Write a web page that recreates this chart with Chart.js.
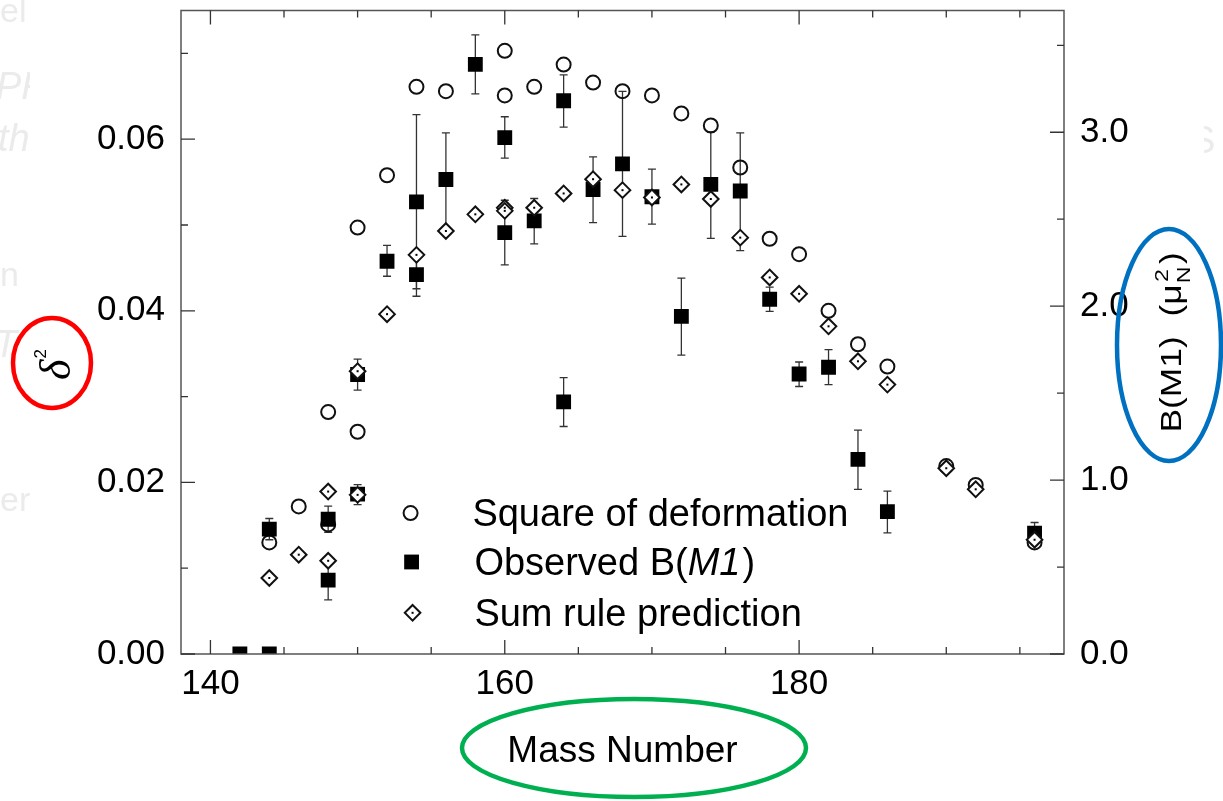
<!DOCTYPE html>
<html>
<head>
<meta charset="utf-8">
<script src="https://cdn.jsdelivr.net/npm/chart.js@4.4.1/dist/chart.umd.min.js"></script>
<style>
  html, body { margin: 0; padding: 0; background: #fff; }
</style>
</head>
<body>
<canvas id="m1Chart" width="1223" height="801"></canvas>
<script>
const FONT = "'Liberation Sans', Arial, Helvetica, sans-serif";

// Square of deformation, delta^2 (left axis)
const defMass   = [144, 146, 148, 148, 150, 150, 152, 154, 156, 160, 160, 162, 164, 166, 168, 170, 172, 174, 176, 178, 180, 182, 184, 186, 190, 192, 196];
const defDelta2 = [0.0130, 0.0172, 0.0282, 0.0151, 0.0497, 0.0259, 0.0558, 0.0661, 0.0656, 0.0703, 0.0651, 0.0661, 0.0687, 0.0666, 0.0656, 0.0651, 0.0630, 0.0616, 0.0567, 0.0484, 0.0466, 0.0400, 0.0361, 0.0335, 0.0219, 0.0197, 0.0130];

// Observed B(M1) in muN^2 (right axis), with lower / upper error bounds
const obsMass = [142, 144, 144, 148, 148, 150, 150, 152, 154, 154, 156, 158, 160, 160, 162, 164, 164, 166, 168, 170, 172, 174, 176, 178, 180, 182, 184, 186, 196];
const obsB    = [0, 0, 0.718, 0.775, 0.425, 1.607, 0.919, 2.258, 2.600, 2.181, 2.728, 3.390, 2.969, 2.423, 2.490, 3.181, 1.450, 2.671, 2.818, 2.629, 1.941, 2.700, 2.662, 2.040, 1.610, 1.649, 1.119, 0.819, 0.695];
const obsLow  = [null, null, 0.657, 0.700, 0.311, 1.517, 0.859, 2.172, 2.100, 2.057, 2.428, 3.221, 2.851, 2.237, 2.358, 3.029, 1.308, 2.480, 2.401, 2.472, 1.719, 2.390, 2.319, 1.970, 1.538, 1.549, 0.947, 0.697, 0.634];
const obsHigh = [null, null, 0.779, 0.850, 0.539, 1.696, 0.974, 2.350, 3.101, 2.305, 2.996, 3.560, 3.089, 2.609, 2.619, 3.330, 1.589, 2.858, 3.235, 2.788, 2.161, 3.002, 2.996, 2.109, 1.679, 1.750, 1.287, 0.936, 0.756];

// Sum rule prediction in muN^2 (right axis)
const sumMass = [144, 146, 148, 148, 150, 150, 152, 154, 156, 158, 160, 160, 162, 164, 166, 168, 170, 172, 174, 176, 178, 180, 182, 184, 186, 190, 192, 196];
const sumB    = [0.437, 0.571, 0.934, 0.536, 1.626, 0.915, 1.954, 2.295, 2.432, 2.528, 2.566, 2.548, 2.566, 2.648, 2.730, 2.667, 2.625, 2.700, 2.616, 2.394, 2.165, 2.071, 1.884, 1.683, 1.549, 1.068, 0.947, 0.657];

// labelled ticks and minor tick steps
const xTickValues = [140, 160, 180];
const leftTickValues = [0, 0.02, 0.04, 0.06];
const rightTickValues = [0, 1, 2, 3];
const xMinorStep = 5, leftMinorStep = 0.01, rightMinorStep = 0.5;

const legendLabels = ['Square of deformation', 'Observed B(', 'Sum rule prediction'];

function toPoints(xs, ys) {
    return xs.map((x, i) => ({ x: x, y: ys[i] }));
}

function drawMarker(ctx, style, x, y) {
    ctx.save();
    ctx.lineWidth = 2;
    ctx.strokeStyle = '#111';
    ctx.beginPath();
    if (style === 'circle') {
        ctx.arc(x, y, 7, 0, Math.PI * 2);
        ctx.stroke();
    } else if (style === 'rect') {
        ctx.fillStyle = '#000';
        ctx.fillRect(x - 7.4, y - 7.4, 14.8, 14.8);
    } else {
        const r = 7.8;
        ctx.moveTo(x, y - r); ctx.lineTo(x + r, y); ctx.lineTo(x, y + r); ctx.lineTo(x - r, y); ctx.closePath();
        ctx.fillStyle = '#fff';
        ctx.fill();
        ctx.stroke();
        ctx.fillStyle = '#000';
        ctx.fillRect(x - 1, y - 1, 2, 2);
    }
    ctx.restore();
}

// light leftover text fragments around the figure
const ghostPlugin = {
    id: 'ghostText',
    beforeDraw(chart) {
        const ctx = chart.ctx;
        ctx.save();
        ctx.fillStyle = '#ebebeb';
        ctx.beginPath();
        ctx.rect(0, 0, 30, 801);
        ctx.clip();
        ctx.font = `34px ${FONT}`;
        ctx.fillText('el', 0, 22);
        ctx.fillText('n h', 0, 286);
        ctx.fillText('er', 0, 511);
        ctx.font = `italic 38px ${FONT}`;
        ctx.fillText('PR', -4, 99);
        ctx.fillText('th', -2, 151);
        ctx.fillText('T', -6, 357);
        ctx.restore();
        ctx.save();
        ctx.fillStyle = '#ebebeb';
        ctx.beginPath();
        ctx.rect(1204, 110, 19, 60);
        ctx.clip();
        ctx.font = `38px ${FONT}`;
        ctx.fillText('S', 1190, 153);
        ctx.restore();
    }
};

const errorBarPlugin = {
    id: 'errorBars',
    beforeDatasetsDraw(chart) {
        const ctx = chart.ctx;
        const a = chart.chartArea;
        const meta = chart.getDatasetMeta(1);
        const yS = chart.scales.yR;
        ctx.save();
        ctx.beginPath();
        ctx.rect(a.left, a.top, a.right - a.left, a.bottom - a.top);
        ctx.clip();
        ctx.strokeStyle = '#333';
        ctx.lineWidth = 1.3;
        meta.data.forEach((pt, i) => {
            if (obsLow[i] == null) return;
            const yLo = yS.getPixelForValue(obsLow[i]);
            const yHi = yS.getPixelForValue(obsHigh[i]);
            ctx.beginPath();
            ctx.moveTo(pt.x, yLo); ctx.lineTo(pt.x, yHi);
            ctx.moveTo(pt.x - 4, yLo); ctx.lineTo(pt.x + 4, yLo);
            ctx.moveTo(pt.x - 4, yHi); ctx.lineTo(pt.x + 4, yHi);
            ctx.stroke();
        });
        ctx.restore();
    }
};

function isMajor(v, list) {
    return list.some(t => Math.abs(t - v) < 1e-9);
}

const framePlugin = {
    id: 'frame',
    afterDatasetsDraw(chart) {
        const ctx = chart.ctx;
        const a = chart.chartArea;
        const { x, y, yR } = chart.scales;

        // diamond centre dots
        ctx.save();
        ctx.fillStyle = '#000';
        chart.getDatasetMeta(2).data.forEach(pt => ctx.fillRect(pt.x - 1, pt.y - 1, 2, 2));
        ctx.restore();

        ctx.save();
        ctx.strokeStyle = '#555';
        ctx.lineWidth = 1.5;
        ctx.strokeRect(a.left, a.top, a.right - a.left, a.bottom - a.top);

        ctx.strokeStyle = '#333';
        ctx.lineWidth = 1.3;
        ctx.beginPath();
        for (let k = Math.ceil(x.min / xMinorStep); k * xMinorStep <= x.max; k++) {
            const v = k * xMinorStep;
            const px = x.getPixelForValue(v);
            const len = isMajor(v, xTickValues) ? 14 : 7;
            ctx.moveTo(px, a.bottom); ctx.lineTo(px, a.bottom - len);
            ctx.moveTo(px, a.top); ctx.lineTo(px, a.top + len);
        }
        for (let k = 0; k * leftMinorStep <= y.max + 1e-9; k++) {
            const v = Math.round(k * leftMinorStep * 1000) / 1000;
            const py = y.getPixelForValue(v);
            const len = isMajor(v, leftTickValues) ? 14 : 7;
            ctx.moveTo(a.left, py); ctx.lineTo(a.left + len, py);
        }
        for (let k = 0; k * rightMinorStep <= yR.max + 1e-9; k++) {
            const v = k * rightMinorStep;
            const py = yR.getPixelForValue(v);
            const len = isMajor(v, rightTickValues) ? 14 : 7;
            ctx.moveTo(a.right, py); ctx.lineTo(a.right - len, py);
        }
        ctx.stroke();
        ctx.restore();
    }
};

const labelsPlugin = {
    id: 'labels',
    afterDraw(chart) {
        const ctx = chart.ctx;
        const a = chart.chartArea;
        const w = a.right - a.left;
        const h = a.bottom - a.top;

        // legend inside the plot
        const mx = a.left + 0.260 * w;
        const tx = a.left + 0.330 * w;
        const rows = [0.781, 0.857, 0.936].map(f => a.top + f * h);
        drawMarker(ctx, 'circle', mx, rows[0]);
        drawMarker(ctx, 'rect', mx + 1, rows[1]);
        drawMarker(ctx, 'diamond', mx + 2, rows[2]);

        ctx.save();
        ctx.fillStyle = '#000';
        ctx.textBaseline = 'alphabetic';
        ctx.font = `38px ${FONT}`;
        ctx.fillText(legendLabels[0], tx, rows[0] + 13);
        ctx.fillText(legendLabels[1], tx + 2, rows[1] + 13);
        let off = ctx.measureText(legendLabels[1]).width;
        ctx.font = `italic 38px ${FONT}`;
        ctx.fillText('M1', tx + 2 + off, rows[1] + 13);
        off += ctx.measureText('M1').width + 2;
        ctx.font = `38px ${FONT}`;
        ctx.fillText(')', tx + 2 + off, rows[1] + 13);
        ctx.fillText(legendLabels[2], tx + 2, rows[2] + 13);

        // x axis title
        ctx.font = `37px ${FONT}`;
        ctx.textAlign = 'center';
        ctx.fillText('Mass Number', (a.left + a.right) / 2, 762);
        ctx.restore();

        // left axis title: delta squared
        ctx.save();
        ctx.fillStyle = '#000';
        ctx.translate(70, 380);
        ctx.rotate(-Math.PI / 2);
        ctx.font = `italic 44px 'Liberation Serif', 'Times New Roman', serif`;
        ctx.fillText('\u03B4', 0, 0);
        const dw = ctx.measureText('\u03B4').width;
        ctx.font = `17px ${FONT}`;
        ctx.fillText('2', dw + 1, -24);
        ctx.restore();

        // right axis title: B(M1) (muN^2)
        ctx.save();
        ctx.fillStyle = '#000';
        ctx.translate(1181, 343);
        ctx.rotate(-Math.PI / 2);
        ctx.scale(1.22, 1);
        ctx.font = `29px ${FONT}`;
        const main = 'B(M1)  (\u03BC';
        const mw = ctx.measureText(main).width;
        ctx.font = `19px ${FONT}`;
        const nw = ctx.measureText('N').width;
        ctx.font = `29px ${FONT}`;
        const total = mw + nw + 2 + ctx.measureText(')').width;
        const x0 = -total / 2;
        ctx.fillText(main, x0, 0);
        ctx.font = `19px ${FONT}`;
        ctx.fillText('N', x0 + mw + 1, 9);
        ctx.fillText('2', x0 + mw + 2, -13);
        ctx.font = `29px ${FONT}`;
        ctx.fillText(')', x0 + mw + nw + 3, 0);
        ctx.restore();

        // highlight ellipses around the axis titles
        ctx.save();
        ctx.lineWidth = 4.5;
        ctx.strokeStyle = '#ff0000';
        ctx.beginPath();
        ctx.ellipse(52, 363, 39, 45, 0, 0, Math.PI * 2);
        ctx.stroke();
        ctx.strokeStyle = '#0070c0';
        ctx.beginPath();
        ctx.ellipse(1169, 345, 52, 116, 0, 0, Math.PI * 2);
        ctx.stroke();
        ctx.strokeStyle = '#00b050';
        ctx.beginPath();
        ctx.ellipse(634, 748, 172, 49, 0, 0, Math.PI * 2);
        ctx.stroke();
        ctx.restore();
    }
};

const tickFont = (size) => ({ family: FONT, size: size });

// keep the plot frame at fixed pixel edges: no extra room for end labels
function fixVertical(width) {
    return (s) => { s.width = width; s.paddingTop = 0; s.paddingBottom = 0; };
}

new Chart(document.getElementById('m1Chart'), {
    type: 'scatter',
    data: {
        datasets: [
            {
                label: 'Square of deformation',
                data: toPoints(defMass, defDelta2),
                yAxisID: 'y',
                pointStyle: 'circle',
                pointRadius: 7,
                pointBorderWidth: 2,
                pointBorderColor: '#111',
                pointBackgroundColor: 'rgba(0,0,0,0)',
                order: 3
            },
            {
                label: 'Observed B(M1)',
                data: toPoints(obsMass, obsB),
                yAxisID: 'yR',
                pointStyle: 'rect',
                pointRadius: 10.5,
                pointBorderWidth: 0,
                pointBackgroundColor: '#000',
                order: 2
            },
            {
                label: 'Sum rule prediction',
                data: toPoints(sumMass, sumB),
                yAxisID: 'yR',
                pointStyle: 'rectRot',
                pointRadius: 7.8,
                pointBorderWidth: 2,
                pointBorderColor: '#111',
                pointBackgroundColor: '#fff',
                order: 1
            }
        ]
    },
    options: {
        responsive: false,
        animation: false,
        events: [],
        layout: { padding: { top: 7, left: 0, right: 0, bottom: 0 } },
        plugins: {
            legend: { display: false },
            tooltip: { enabled: false }
        },
        scales: {
            x: {
                type: 'linear',
                position: 'bottom',
                min: 138,
                max: 198,
                grid: { display: false, drawTicks: false },
                border: { display: false },
                afterBuildTicks: (s) => { s.ticks = xTickValues.map(v => ({ value: v })); },
                afterFit: (s) => { s.height = 147; s.paddingLeft = 0; s.paddingRight = 0; },
                ticks: {
                    color: '#000',
                    padding: 9,
                    maxRotation: 0,
                    font: tickFont(35),
                    callback: (v) => String(v)
                }
            },
            y: {
                type: 'linear',
                position: 'left',
                min: 0,
                max: 0.075,
                grid: { display: false, drawTicks: false },
                border: { display: false },
                afterBuildTicks: (s) => { s.ticks = leftTickValues.map(v => ({ value: v })); },
                afterFit: fixVertical(181),
                ticks: {
                    color: '#000',
                    padding: 16,
                    font: tickFont(35),
                    callback: (v) => Number(v).toFixed(2)
                }
            },
            yR: {
                type: 'linear',
                position: 'right',
                min: 0,
                max: 3.7,
                grid: { display: false, drawTicks: false },
                border: { display: false },
                afterBuildTicks: (s) => { s.ticks = rightTickValues.map(v => ({ value: v })); },
                afterFit: fixVertical(159),
                ticks: {
                    color: '#000',
                    padding: 16,
                    font: tickFont(35),
                    callback: (v) => Number(v).toFixed(1)
                }
            }
        }
    },
    plugins: [ghostPlugin, errorBarPlugin, framePlugin, labelsPlugin]
});
</script>
</body>
</html>
